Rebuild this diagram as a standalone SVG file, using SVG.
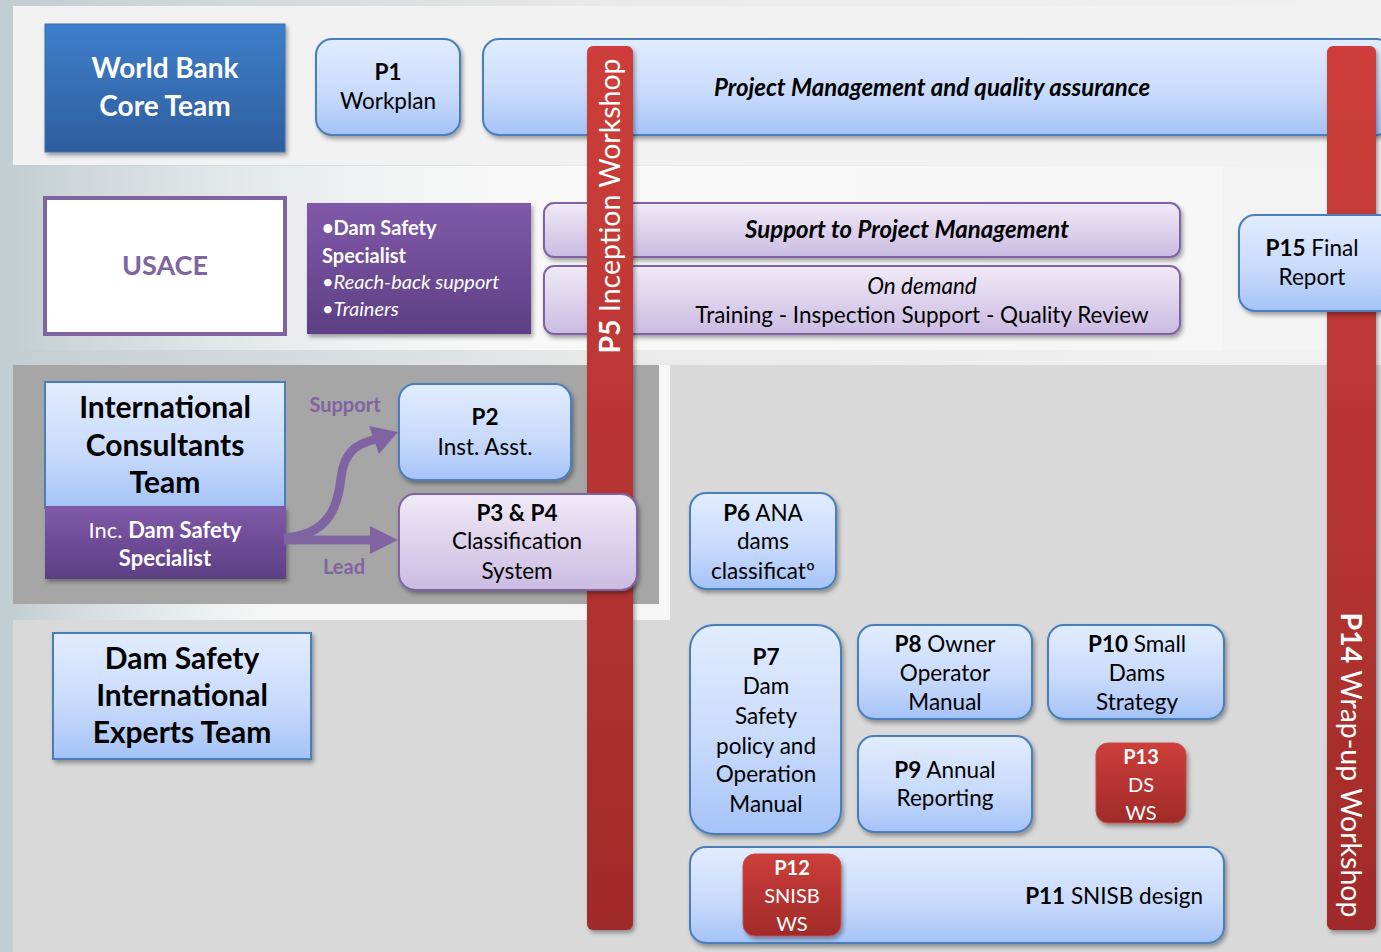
<svg xmlns="http://www.w3.org/2000/svg" width="1381" height="952" viewBox="0 0 1381 952">
  <defs>
    <linearGradient id="bg" x1="0" y1="0" x2="1" y2="0">
      <stop offset="0" stop-color="#c3ced2"/>
      <stop offset="0.45" stop-color="#eaeaea"/>
      <stop offset="1" stop-color="#f2f2f2"/>
    </linearGradient>
    <linearGradient id="pale" x1="0" y1="0" x2="1" y2="0">
      <stop offset="0" stop-color="#ffffff" stop-opacity="0"/>
      <stop offset="0.4" stop-color="#fafafa" stop-opacity="0.9"/>
      <stop offset="1" stop-color="#f6f6f6"/>
    </linearGradient>
    <linearGradient id="blueBox" x1="0" y1="0" x2="0" y2="1">
      <stop offset="0" stop-color="#e1ecff"/>
      <stop offset="0.55" stop-color="#c9dbfb"/>
      <stop offset="1" stop-color="#a5c3f8"/>
    </linearGradient>
    <linearGradient id="lilac" x1="0" y1="0" x2="0" y2="1">
      <stop offset="0" stop-color="#f0eaf7"/>
      <stop offset="1" stop-color="#cbbbe2"/>
    </linearGradient>
    <linearGradient id="violet" x1="0" y1="0" x2="0" y2="1">
      <stop offset="0" stop-color="#8059a9"/>
      <stop offset="1" stop-color="#5d3f84"/>
    </linearGradient>
    <linearGradient id="wb" x1="0" y1="0" x2="0" y2="1">
      <stop offset="0" stop-color="#3e7ecb"/>
      <stop offset="1" stop-color="#2e5e9d"/>
    </linearGradient>
    <linearGradient id="red" x1="0" y1="0" x2="0" y2="1">
      <stop offset="0" stop-color="#cd3e3a"/>
      <stop offset="1" stop-color="#a02b29"/>
    </linearGradient>
    <filter id="shadow" x="-10%" y="-10%" width="130%" height="130%">
      <feDropShadow dx="2" dy="3" stdDeviation="2" flood-color="#000" flood-opacity="0.35"/>
    </filter>
    <style>
      text { font-family: Lato, "Liberation Sans", sans-serif; }
      .blue { fill: url(#blueBox); stroke: #4a7ebb; stroke-width: 2; filter: url(#shadow); }
      .lil { fill: url(#lilac); stroke: #8064a2; stroke-width: 2; filter: url(#shadow); }
      .vio { fill: url(#violet); filter: url(#shadow); }
      .redbox { fill: url(#red); stroke: #c0504d; stroke-width: 1; filter: url(#shadow); }
      .t { fill: #000; font-size: 22.5px; text-anchor: middle; }
      .bi { font-size: 24px; font-weight: bold; font-style: italic; }
      .tb { fill: #000; font-size: 30px; font-weight: bold; text-anchor: middle; }
      .w { fill: #fff; font-size: 20px; text-anchor: middle; }
      .lbl { fill: #fff; font-size: 20px; }
      .bar { fill: #fff; font-size: 28.5px; text-anchor: middle; }
      .b { font-weight: bold; }
    </style>
  </defs>

  <!-- backdrop bands -->
  <rect x="0" y="0" width="1381" height="952" fill="url(#bg)"/>
  <rect x="13" y="6" width="1368" height="159" fill="#f2f2f2"/>
  <rect x="13" y="166" width="1210" height="184" fill="url(#pale)"/>
  <rect x="1223" y="166" width="158" height="184" fill="#f3f3f3"/>
  <rect x="13" y="365" width="657" height="255" fill="url(#pale)"/>
  <rect x="13" y="365" width="646" height="239" fill="#a6a6a6"/>
  <path d="M670,365 H1381 V952 H13 V620 H670 Z" fill="#d9d9d9"/>

  <!-- top band -->
  <g id="world-bank">
    <rect x="45" y="24" width="240" height="128" fill="url(#wb)" stroke="#3b6fb0" stroke-width="1" filter="url(#shadow)"/>
    <text class="w b" x="165" y="78" style="font-size:28px">World Bank</text>
    <text class="w b" x="165" y="116" style="font-size:28px">Core Team</text>
  </g>
  <g id="p1">
    <rect class="blue" x="316" y="39" width="144" height="96" rx="16"/>
    <text class="t b" x="388" y="80">P1</text>
    <text class="t" x="388" y="109">Workplan</text>
  </g>
  <g id="project-management">
    <rect class="blue" x="483" y="39" width="910" height="96" rx="16"/>
    <text class="t bi" x="932" y="96">Project Management and quality assurance</text>
  </g>

  <!-- USACE band -->
  <g id="usace">
    <rect x="45" y="198" width="240" height="136" fill="#fff" stroke="#8064a2" stroke-width="4"/>
    <text x="165" y="275" font-size="27" font-weight="bold" fill="#8064a2" text-anchor="middle">USACE</text>
  </g>
  <g id="usace-roles">
    <rect class="vio" x="307" y="203" width="224" height="131"/>
    <text class="lbl b" x="322" y="235">•Dam Safety</text>
    <text class="lbl b" x="322" y="263">Specialist</text>
    <text class="lbl" x="322" y="289" font-style="italic">•Reach-back support</text>
    <text class="lbl" x="322" y="316" font-style="italic">•Trainers</text>
  </g>
  <g id="support-pm">
    <rect class="lil" x="544" y="203" width="636" height="54" rx="10"/>
    <text class="t bi" x="907" y="238">Support to Project Management</text>
  </g>
  <g id="on-demand">
    <rect class="lil" x="544" y="266" width="636" height="68" rx="10"/>
    <text class="t" x="922" y="294" font-style="italic">On demand</text>
    <text class="t" x="922" y="323">Training - Inspection Support - Quality Review</text>
  </g>

  <!-- workshop bars -->
  <g id="p5">
    <rect x="587" y="46" width="46" height="884" rx="6" fill="url(#red)" filter="url(#shadow)"/>
    <text class="bar" transform="translate(620,206) rotate(-90)"><tspan class="b">P5</tspan> Inception Workshop</text>
  </g>
  <g id="p14">
    <rect x="1327" y="46" width="49" height="884" rx="6" fill="url(#red)" filter="url(#shadow)"/>
    <text class="bar" transform="translate(1341,765) rotate(90)"><tspan class="b">P14</tspan> Wrap-up Workshop</text>
  </g>
  <g id="p15">
    <rect class="blue" x="1239" y="215" width="160" height="96" rx="16"/>
    <text class="t" x="1312" y="256"><tspan class="b">P15</tspan> Final</text>
    <text class="t" x="1312" y="285">Report</text>
  </g>

  <!-- consultants band -->
  <g id="intl-consultants">
    <rect x="45" y="382" width="240" height="126" fill="url(#blueBox)" stroke="#4a7ebb" stroke-width="2"/>
    <text class="tb" x="165" y="418">International</text>
    <text class="tb" x="165" y="456">Consultants</text>
    <text class="tb" x="165" y="493">Team</text>
  </g>
  <g id="inc-dss">
    <rect class="vio" x="45" y="506" width="241" height="73"/>
    <text class="w" x="165" y="538" style="font-size:22px">Inc. <tspan class="b">Dam Safety</tspan></text>
    <text class="w b" x="165" y="566" style="font-size:22px">Specialist</text>
  </g>

  <g id="connectors" fill="#8064a2" stroke="none">
    <path d="M284,538 C330,535 338,505 341,478 C344,452 356,444 376,439" fill="none" stroke="#8064a2" stroke-width="9"/>
    <polygon points="369,426 398,432 379,454"/>
    <line x1="284" y1="540" x2="372" y2="540" stroke="#8064a2" stroke-width="9"/>
    <polygon points="370,526 398,540 370,554"/>
    <text x="345" y="412" font-size="20" font-weight="bold" text-anchor="middle">Support</text>
    <text x="344" y="574" font-size="20" font-weight="bold" text-anchor="middle">Lead</text>
  </g>

  <g id="p2">
    <rect class="blue" x="399" y="384" width="172" height="96" rx="16"/>
    <text class="t b" x="485" y="425">P2</text>
    <text class="t" x="485" y="455">Inst. Asst.</text>
  </g>
  <g id="p3-p4">
    <rect class="lil" x="399" y="494" width="238" height="96" rx="16"/>
    <text class="t b" x="517" y="521">P3 &amp; P4</text>
    <text class="t" x="517" y="549">Classification</text>
    <text class="t" x="517" y="579">System</text>
  </g>

  <!-- lower area -->
  <g id="experts">
    <rect class="blue" x="53" y="633" width="258" height="126"/>
    <text class="tb" x="182" y="669">Dam Safety</text>
    <text class="tb" x="182" y="706">International</text>
    <text class="tb" x="182" y="743">Experts Team</text>
  </g>
  <g id="p6">
    <rect class="blue" x="690" y="493" width="146" height="96" rx="16"/>
    <text class="t" x="763" y="521"><tspan class="b">P6</tspan> ANA</text>
    <text class="t" x="763" y="549">dams</text>
    <text class="t" x="763" y="579">classificatº</text>
  </g>
  <g id="p7">
    <rect class="blue" x="690" y="625" width="151" height="209" rx="24"/>
    <text class="t b" x="766" y="665">P7</text>
    <text class="t" x="766" y="694">Dam</text>
    <text class="t" x="766" y="724">Safety</text>
    <text class="t" x="766" y="754">policy and</text>
    <text class="t" x="766" y="782">Operation</text>
    <text class="t" x="766" y="812">Manual</text>
  </g>
  <g id="p8">
    <rect class="blue" x="858" y="625" width="174" height="94" rx="16"/>
    <text class="t" x="945" y="652"><tspan class="b">P8</tspan> Owner</text>
    <text class="t" x="945" y="681">Operator</text>
    <text class="t" x="945" y="710">Manual</text>
  </g>
  <g id="p9">
    <rect class="blue" x="858" y="736" width="174" height="96" rx="16"/>
    <text class="t" x="945" y="778"><tspan class="b">P9</tspan> Annual</text>
    <text class="t" x="945" y="806">Reporting</text>
  </g>
  <g id="p10">
    <rect class="blue" x="1048" y="625" width="176" height="94" rx="16"/>
    <text class="t" x="1137" y="652"><tspan class="b">P10</tspan> Small</text>
    <text class="t" x="1137" y="681">Dams</text>
    <text class="t" x="1137" y="710">Strategy</text>
  </g>
  <g id="p13">
    <rect class="redbox" x="1096" y="743" width="90" height="80" rx="12"/>
    <text class="w b" x="1141" y="764">P13</text>
    <text class="w" x="1141" y="792">DS</text>
    <text class="w" x="1141" y="820">WS</text>
  </g>
  <g id="p11">
    <rect class="blue" x="690" y="847" width="534" height="96" rx="16"/>
    <text class="t" x="1203" y="904" style="text-anchor:end"><tspan class="b">P11</tspan> SNISB design</text>
  </g>
  <g id="p12">
    <rect class="redbox" x="743" y="854" width="98" height="82" rx="12"/>
    <text class="w b" x="792" y="875">P12</text>
    <text class="w" x="792" y="903">SNISB</text>
    <text class="w" x="792" y="931">WS</text>
  </g>
</svg>
